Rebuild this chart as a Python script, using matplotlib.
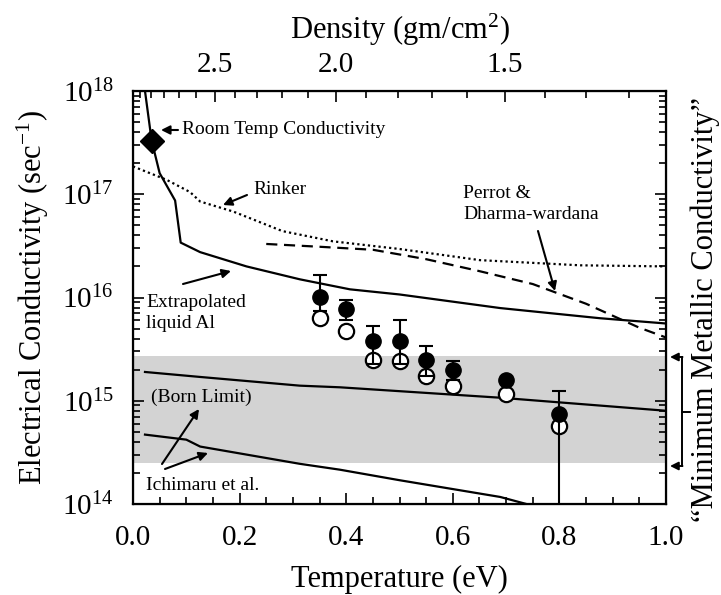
import numpy as np
import matplotlib
matplotlib.use("Agg")
import matplotlib.pyplot as plt
from matplotlib.ticker import LogLocator, MultipleLocator, NullFormatter, FixedLocator
from matplotlib.lines import Line2D

plt.rcParams['font.family'] = ['Liberation Serif', 'DejaVu Serif']
plt.rcParams['mathtext.fontset'] = 'custom'
plt.rcParams['mathtext.rm'] = 'Liberation Serif'
plt.rcParams['mathtext.it'] = 'Liberation Serif:italic'

# ---------------- data ----------------
# Extrapolated liquid Al (solid)
T_liq = [0.0225, 0.035, 0.05, 0.079, 0.0895, 0.126, 0.213, 0.313, 0.407, 0.5, 0.689, 0.876, 1.0]
S_liq = [1.0e18, 3.3e17, 1.6e17, 8.7e16, 3.4e16, 2.75e16, 2.0e16, 1.5e16, 1.2e16, 1.07e16, 7.9e15, 6.3e15, 5.6e15]
# Rinker (dotted)
T_rink = [0.0, 0.063, 0.107, 0.126, 0.188, 0.28, 0.375, 0.5, 0.651, 0.839, 1.0]
S_rink = [1.86e17, 1.38e17, 1.05e17, 8.5e16, 6.8e16, 4.4e16, 3.5e16, 2.95e16, 2.3e16, 2.05e16, 2.0e16]
# Perrot & Dharma-wardana (dashed)
T_pdw = [0.25, 0.35, 0.45, 0.55, 0.65, 0.75, 0.85, 0.95, 1.0]
S_pdw = [3.3e16, 3.1e16, 2.9e16, 2.35e16, 1.8e16, 1.35e16, 8.7e15, 5.1e15, 4.1e15]
# Born limit (solid)
T_born = [0.0225, 0.126, 0.313, 0.388, 0.689, 1.0]
S_born = [1.9e15, 1.7e15, 1.4e15, 1.35e15, 1.07e15, 8.0e14]
# Ichimaru et al. (solid)
T_ichi = [0.0225, 0.1, 0.126, 0.313, 0.388, 0.5, 0.689, 0.738]
S_ichi = [4.7e14, 4.2e14, 3.6e14, 2.45e14, 2.15e14, 1.7e14, 1.17e14, 1.0e14]
# Minimum metallic conductivity band
band_low, band_high = 2.5e14, 2.7e15
# Room temperature conductivity
T_room = [0.035]
S_room = [3.3e17]
# Experimental points
T_exp = [0.35, 0.40, 0.45, 0.50, 0.55, 0.60, 0.70, 0.80]
S_fill = [1.02e16, 7.7e15, 3.8e15, 3.8e15, 2.5e15, 2.0e15, 1.6e15, 7.4e14]
S_fill_hi = [1.66e16, 9.5e15, 5.25e15, 6.0e15, 3.4e15, 2.45e15, 1.6e15, 1.23e15]
S_fill_lo = [7.4e15, 6.0e15, 2.25e15, 2.25e15, 1.75e15, 1.6e15, 1.6e15, 5.0e13]
S_open = [6.3e15, 4.7e15, 2.5e15, 2.45e15, 1.74e15, 1.38e15, 1.15e15, 5.7e14]
# Top axis (density) tick labels and their temperature positions
dens_labels = ['2.5', '2.0', '1.5']
dens_vals = [2.5, 2.0, 1.5]
dens_T = [0.153, 0.381, 0.698]
x_ticks = [0.0, 0.2, 0.4, 0.6, 0.8, 1.0]

# ---------------- figure ----------------
W, H = 721, 595
fig = plt.figure(figsize=(W / 100, H / 100), dpi=100)
L, R, T, B = 133, 666, 91, 504
ax = fig.add_axes([L / W, 1 - B / H, (R - L) / W, (B - T) / H])

def A(px, py):
    return ((px - L) / (R - L), (B - py) / (B - T))

def F(px, py):
    return (px / W, 1 - py / H)

ax.set_yscale('log')
ax.set_xlim(0, 1)
ax.set_ylim(1e14, 1e18)

ax.fill_between([0, 1], band_low, band_high, color='#d3d3d3', lw=0, zorder=0)

ax.plot(T_liq, S_liq, color='k', lw=1.6, zorder=2)
ax.plot(T_rink, S_rink, color='k', lw=1.6, ls=(0, (1, 1.4)), zorder=2)
ax.plot(T_pdw, S_pdw, color='k', lw=1.6, ls=(0, (5, 3)), zorder=2)
ax.plot(T_born, S_born, color='k', lw=1.6, zorder=2)
ax.plot(T_ichi, S_ichi, color='k', lw=1.6, zorder=2)
ax.plot(T_room, S_room, marker='D', ms=12.5, color='k', ls='none', zorder=5, clip_on=False)

ax.plot(T_exp, S_open, 'o', ms=11, mfc='white', mec='k', mew=1.6, ls='none', zorder=3)
yerr = [np.array(S_fill) - np.array(S_fill_lo), np.array(S_fill_hi) - np.array(S_fill)]
ax.errorbar(T_exp, S_fill, yerr=yerr, fmt='o', ms=11, color='k', ecolor='k',
            elinewidth=1.5, capsize=5, capthick=1.5, zorder=4)

# ticks
ax.xaxis.set_major_locator(FixedLocator(x_ticks))
ax.xaxis.set_minor_locator(MultipleLocator(0.05))
ax.set_xticklabels(['%.1f' % v for v in x_ticks])
ax.yaxis.set_major_locator(LogLocator(base=10, numticks=10))
ax.yaxis.set_minor_locator(LogLocator(base=10, subs=np.arange(2, 10), numticks=10))
ax.yaxis.set_minor_formatter(NullFormatter())
ax.tick_params(which='both', direction='in', labelsize=21, top=False, right=True, width=1.2)
ax.tick_params(which='major', length=8)
ax.tick_params(which='minor', length=5)
ax.tick_params(axis='x', pad=15)
ax.tick_params(axis='y', pad=14)
for s in ax.spines.values():
    s.set_linewidth(1.6)

ax.set_xlabel('Temperature (eV)', fontsize=22, labelpad=10)
ax.set_ylabel('Electrical Conductivity (sec$^{-1}$)', fontsize=22, labelpad=8)

# top density axis
ax2 = ax.twiny()
ax2.set_xlim(0, 1)
ax2.set_xticks(dens_T)
ax2.set_xticklabels(dens_labels)
coef = np.polyfit(dens_vals, dens_T, 2)
minor_rho = np.round(np.arange(1.1, 3.05, 0.1), 2)
minor_T = [np.polyval(coef, r) for r in minor_rho if not any(abs(r - d) < 1e-6 for d in dens_vals)]
minor_T = [t for t in minor_T if 0.005 < t < 0.995]
ax2.xaxis.set_minor_locator(FixedLocator(minor_T))
ax2.tick_params(which='both', direction='in', labelsize=21, width=1.2, pad=9)
ax2.tick_params(which='major', length=8)
ax2.tick_params(which='minor', length=5)
ax2.set_xlabel('Density (gm/cm$^{2}$)', fontsize=22, labelpad=10)

# annotations
ap = dict(arrowstyle='-|>', lw=1.5, color='k', mutation_scale=13, shrinkA=0, shrinkB=0)
fs = 14
ax.text(*A(182, 130), 'Room Temp Conductivity', transform=ax.transAxes, fontsize=fs, va='center', ha='left')
ax.annotate('', xy=A(161, 130), xytext=A(178, 130), xycoords='axes fraction', textcoords='axes fraction', arrowprops=ap)
ax.text(*A(253, 190), 'Rinker', transform=ax.transAxes, fontsize=fs, va='center', ha='left')
ax.annotate('', xy=A(223, 205), xytext=A(247, 195), xycoords='axes fraction', textcoords='axes fraction', arrowprops=ap)
ax.text(*A(146, 313), 'Extrapolated\nliquid Al', transform=ax.transAxes, fontsize=fs, va='center', ha='left', linespacing=1.25)
ax.annotate('', xy=A(231, 271), xytext=A(183, 284), xycoords='axes fraction', textcoords='axes fraction', arrowprops=ap)
ax.text(*A(151, 397), '(Born Limit)', transform=ax.transAxes, fontsize=fs, va='center', ha='left')
ax.annotate('', xy=A(199, 409), xytext=A(162, 464), xycoords='axes fraction', textcoords='axes fraction', arrowprops=ap)
ax.annotate('', xy=A(208, 453), xytext=A(165, 469), xycoords='axes fraction', textcoords='axes fraction', arrowprops=ap)
ax.text(*A(146, 485), 'Ichimaru et al.', transform=ax.transAxes, fontsize=fs, va='center', ha='left')
ax.text(*A(463, 204), 'Perrot &\nDharma-wardana', transform=ax.transAxes, fontsize=fs, va='center', ha='left', linespacing=1.25)
ax.annotate('', xy=A(555, 291), xytext=A(538, 231), xycoords='axes fraction', textcoords='axes fraction', arrowprops=ap)

# right bracket
apf = dict(arrowstyle='-|>', lw=1.4, color='k', mutation_scale=12, shrinkA=0, shrinkB=0)
fig.add_artist(Line2D([682 / W, 682 / W], [1 - 357 / H, 1 - 466 / H], color='k', lw=1.4))
fig.add_artist(Line2D([682 / W, 690 / W], [1 - 412 / H, 1 - 412 / H], color='k', lw=1.4))
ax.annotate('', xy=F(670, 357), xytext=F(682.5, 357), xycoords='figure fraction', textcoords='figure fraction', arrowprops=apf)
ax.annotate('', xy=F(670, 466), xytext=F(682.5, 466), xycoords='figure fraction', textcoords='figure fraction', arrowprops=apf)
fig.text(*F(705, 310), '\u201cMinimum Metallic Conductivity\u201d', rotation=90, fontsize=22, ha='center', va='center')

fig.savefig('out.png', dpi=100)
